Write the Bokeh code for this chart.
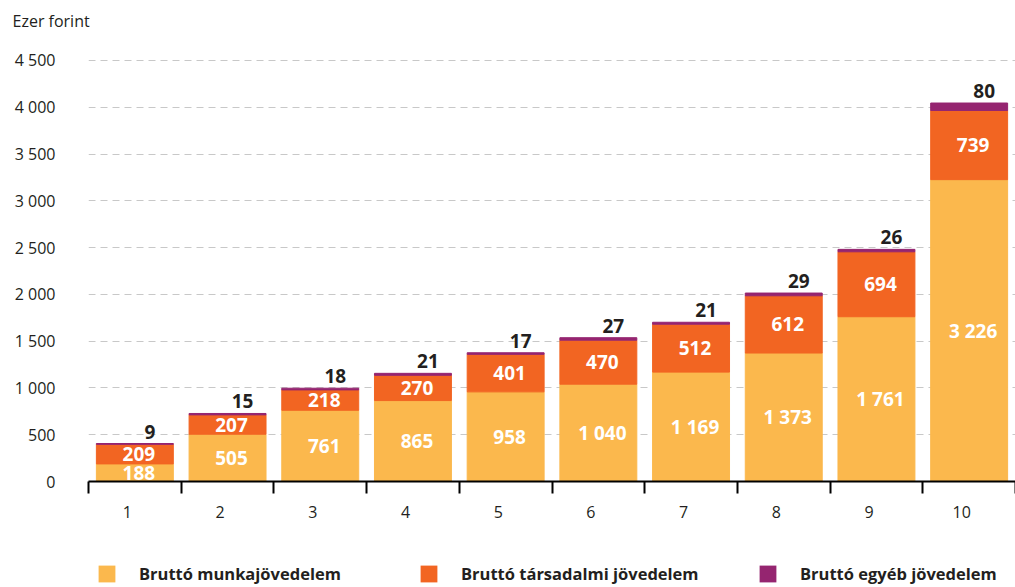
from bokeh.plotting import figure
from bokeh.layouts import column
from bokeh.models import ColumnDataSource, FixedTicker, Legend, LegendItem, Range1d
from bokeh.core.properties import value
from bokeh.embed import file_html
from bokeh.resources import INLINE

categories = ["1", "2", "3", "4", "5", "6", "7", "8", "9", "10"]
munka = [188, 505, 761, 865, 958, 1040, 1169, 1373, 1761, 3226]
tarsadalmi = [209, 207, 218, 270, 401, 470, 512, 612, 694, 739]
egyeb = [9, 15, 18, 21, 17, 27, 21, 29, 26, 80]
y_ticks = [0, 500, 1000, 1500, 2000, 2500, 3000, 3500, 4000, 4500]
y_tick_labels = ["0", "500", "1 000", "1 500", "2 000", "2 500", "3 000", "3 500", "4 000", "4 500"]
series_names = ["Bruttó munkajövedelem", "Bruttó társadalmi jövedelem", "Bruttó egyéb jövedelem"]
colors = ["#FBB84D", "#F26522", "#952570"]

FONT = "Open Sans"
TXT = "#231F20"

def fmt(v):
    return f"{v:,}".replace(",", " ")

xs = list(range(1, len(categories) + 1))
b1 = [0] * len(xs)
t1 = munka
b2 = t1
t2 = [a + b for a, b in zip(t1, tarsadalmi)]
b3 = t2
t3 = [a + b for a, b in zip(t2, egyeb)]

src = ColumnDataSource(dict(
    x=xs, b1=b1, t1=t1, b2=b2, t2=t2, b3=b3, t3=t3,
    m1=[(a + b) / 2 for a, b in zip(b1, t1)],
    m2=[(a + b) / 2 for a, b in zip(b2, t2)],
    l1=[fmt(v) for v in munka],
    l2=[fmt(v) for v in tarsadalmi],
    l3=[fmt(v) for v in egyeb],
))

p = figure(width=1015, height=540, x_range=Range1d(0.5, 10.5), y_range=Range1d(0, 4756),
           output_backend="svg", toolbar_location=None,
           min_border_left=88, min_border_right=0, min_border_top=36, min_border_bottom=59)
p.outline_line_color = None
p.background_fill_color = "white"

p.title.text = "Ezer forint"
p.title.text_font = FONT
p.title.text_font_size = "16px"
p.title.text_font_style = "normal"
p.title.text_color = TXT
p.title.align = "left"
p.title.offset = -76

W = 0.83
r1 = p.vbar(x="x", bottom="b1", top="t1", width=W, color=colors[0], source=src)
r2 = p.vbar(x="x", bottom="b2", top="t2", width=W, color=colors[1], source=src)
r3 = p.vbar(x="x", bottom="b3", top="t3", width=W, color=colors[2], source=src)

p.text(x="x", y="m1", text="l1", source=src, text_color="white", text_font=value(FONT),
       text_font_size="19px", text_font_style="bold", text_align="center", text_baseline="middle",
       x_offset=4)
p.text(x="x", y="m2", text="l2", source=src, text_color="white", text_font=value(FONT),
       text_font_size="19px", text_font_style="bold", text_align="center", text_baseline="middle",
       x_offset=4)
p.text(x="x", y="t3", text="l3", source=src, text_color=TXT, text_font=value(FONT),
       text_font_size="19px", text_font_style="bold", text_align="center", text_baseline="bottom",
       x_offset=15, y_offset=-5)

# y axis
p.yaxis.ticker = FixedTicker(ticks=y_ticks)
p.yaxis.major_label_overrides = {t: l for t, l in zip(y_ticks, y_tick_labels)}
p.yaxis.axis_line_color = None
p.yaxis.major_tick_line_color = None
p.yaxis.minor_tick_line_color = None
p.yaxis.major_tick_out = 0
p.yaxis.major_label_standoff = 33
p.yaxis.major_label_text_font = FONT
p.yaxis.major_label_text_font_size = "16px"
p.yaxis.major_label_text_color = TXT

p.ygrid.ticker = FixedTicker(ticks=y_ticks[1:])
p.ygrid.grid_line_color = "#C8C8C8"
p.ygrid.grid_line_dash = "7 5"
p.ygrid.grid_line_width = 1
p.xgrid.grid_line_color = None

# x axis
label_pos = [i - 0.08 for i in xs]
bounds = [i - 0.5 for i in xs] + [xs[-1] + 0.5]
p.xaxis.ticker = FixedTicker(ticks=label_pos, minor_ticks=bounds)
p.xaxis.major_label_overrides = {t: c for t, c in zip(label_pos, categories)}
p.xaxis.axis_line_color = "black"
p.xaxis.axis_line_width = 2
p.xaxis.major_tick_line_color = None
p.xaxis.major_tick_out = 12
p.xaxis.major_tick_in = 0
p.xaxis.minor_tick_line_color = "black"
p.xaxis.minor_tick_line_width = 2
p.xaxis.minor_tick_out = 12
p.xaxis.minor_tick_in = 0
p.xaxis.major_label_standoff = 12
p.xaxis.major_label_text_font = FONT
p.xaxis.major_label_text_font_size = "16px"
p.xaxis.major_label_text_color = TXT

# legend strip below the chart (its y-range keeps the proxy bars far out of view)
pl = figure(width=1015, height=45, x_range=Range1d(0.5, 10.5), y_range=Range1d(100000, 100001),
            output_backend="svg", toolbar_location=None, x_axis_location=None, y_axis_location=None,
            min_border=0, min_border_left=0, min_border_right=0, min_border_top=0, min_border_bottom=0)
pl.outline_line_color = None
pl.xgrid.visible = False
pl.ygrid.visible = False

legend_x = [8, 330, 669]
for name, col, vals, lx in zip(series_names, colors, [munka, tarsadalmi, egyeb], legend_x):
    proxy = pl.vbar(x=xs, top=vals, width=W, fill_color=col, line_color=None)
    leg = Legend(items=[LegendItem(label=name, renderers=[proxy])], location=(lx, 0),
                 orientation="horizontal", padding=0, margin=0, spacing=0,
                 border_line_color=None, background_fill_alpha=0,
                 glyph_width=21, glyph_height=21, label_height=21,
                 label_standoff=22, label_text_font=FONT, label_text_font_size="16.5px",
                 label_text_font_style="bold", label_text_color=TXT)
    pl.add_layout(leg, "center")

layout = column(p, pl, spacing=0)
open("out.html", "w").write(file_html(layout, INLINE))
